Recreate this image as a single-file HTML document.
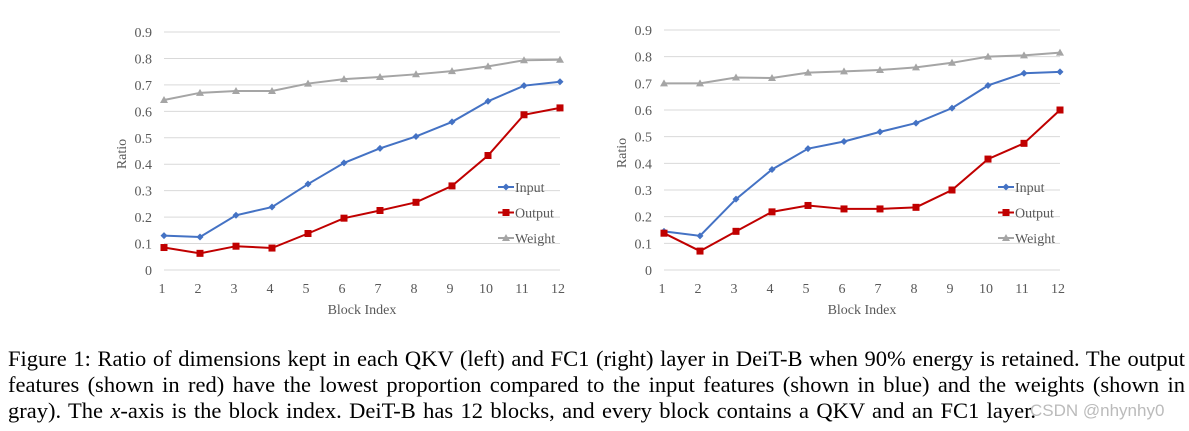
<!DOCTYPE html>
<html><head><meta charset="utf-8"><style>
body{margin:0;background:#fff;width:1189px;height:431px;overflow:hidden;position:relative;font-family:"Liberation Serif",serif}
.cl{position:absolute;left:8px;width:1177px;font-size:22.5px;line-height:26px;text-align:justify;text-align-last:justify;color:#000;white-space:nowrap}
#wm{position:absolute;left:1030px;top:401px;font-family:"Liberation Sans",sans-serif;font-size:17px;color:#bbb}
</style></head><body>
<svg id="chart" width="1189" height="340" style="position:absolute;left:0;top:0"></svg>
<div>
<div class="cl" style="top:346px">Figure 1: Ratio of dimensions kept in each QKV (left) and FC1 (right) layer in DeiT-B when 90% energy is retained. The output</div>
<div class="cl" style="top:372px">features (shown in red) have the lowest proportion compared to the input features (shown in blue) and the weights (shown in</div>
<div class="cl" style="top:398px;width:1028px">gray). The <i>x</i>-axis is the block index. DeiT-B has 12 blocks, and every block contains a QKV and an FC1 layer.</div>
</div>
<div id="wm">CSDN @nhynhy0</div>
<script>
const blocks=[1,2,3,4,5,6,7,8,9,10,11,12];
const yTicks=[0,0.1,0.2,0.3,0.4,0.5,0.6,0.7,0.8,0.9];
const yTickLabels=["0","0.1","0.2","0.3","0.4","0.5","0.6","0.7","0.8","0.9"];
const leftInput=[0.13,0.125,0.207,0.238,0.325,0.405,0.46,0.505,0.56,0.638,0.697,0.712];
const leftOutput=[0.085,0.063,0.09,0.083,0.138,0.196,0.225,0.256,0.318,0.433,0.587,0.613];
const leftWeight=[0.643,0.67,0.677,0.677,0.705,0.722,0.73,0.74,0.752,0.77,0.793,0.795];
const rightInput=[0.145,0.128,0.266,0.377,0.455,0.482,0.518,0.551,0.607,0.692,0.738,0.743];
const rightOutput=[0.138,0.071,0.145,0.218,0.242,0.229,0.229,0.235,0.3,0.416,0.475,0.6];
const rightWeight=[0.7,0.7,0.722,0.72,0.74,0.745,0.75,0.76,0.777,0.8,0.805,0.815];
const seriesNames=["Input","Output","Weight"];
const NS="http://www.w3.org/2000/svg";
const svg=document.getElementById('chart');
function mk(t,a,p){const e=document.createElementNS(NS,t);for(const k in a)e.setAttribute(k,a[k]);(p||svg).appendChild(e);return e;}
function marker(g,kind,x,y,c){
  if(kind==="Input"){return mk('path',{d:`M${x} ${y-3.5}L${x+3.5} ${y}L${x} ${y+3.5}L${x-3.5} ${y}Z`,fill:c},g);}
  if(kind==="Output"){return mk('rect',{x:x-3.5,y:y-3.5,width:7,height:7,fill:c},g);}
  return mk('path',{d:`M${x} ${y-4}L${x+4} ${y+3}L${x-4} ${y+3}Z`,fill:c},g);
}
function drawChart(name,x0,x1,yTop,yBot,data){
  const g=mk('g',{});
  
  
  const xs=v=>x0+(v-1)*(x1-x0)/11;
  const ys=v=>yBot-v*(yBot-yTop)/0.9;
  yTicks.forEach((t,i)=>{
    const l=mk('line',{x1:x0,x2:x1,y1:ys(t),y2:ys(t),stroke:'#d9d9d9','stroke-width':1},g);
    
    
    const tx=mk('text',{x:x0-12,y:ys(t)+5,'text-anchor':'end','font-size':14,fill:'#595959'},g);
    tx.textContent=yTickLabels[i];
    
    
  });
  blocks.forEach(b=>{
    const tx=mk('text',{x:xs(b)-2,y:yBot+23,'text-anchor':'middle','font-size':14,fill:'#595959'},g);
    tx.textContent=b;
    
    
  });
  const xt=mk('text',{x:(x0+x1)/2,y:yBot+44,'text-anchor':'middle','font-size':14,fill:'#595959'},g);
  xt.textContent='Block Index';
  
  
  const yt=mk('text',{x:0,y:0,'text-anchor':'middle','font-size':14,fill:'#595959',transform:`translate(${x0-38},${(yTop+yBot)/2+3}) rotate(-90)`},g);
  yt.textContent='Ratio';
  
  
  const colors={Input:'#4472c4',Output:'#c00000',Weight:'#a5a5a5'};
  seriesNames.forEach((s,si)=>{
    const vals=data[si];
    const pl=mk('polyline',{points:vals.map((v,i)=>xs(blocks[i])+','+ys(v)).join(' '),fill:'none',stroke:colors[s],'stroke-width':2},g);
    
    
    vals.forEach((v,i)=>{const m=marker(g,s,xs(blocks[i]),ys(v),colors[s]);
      
      });
    const ly=yBot-83+si*25.5;
    const ll=mk('line',{x1:x1-62,x2:x1-46,y1:ly,y2:ly,stroke:colors[s],'stroke-width':2},g);
    
    
    const lm=marker(g,s,x1-54,ly,colors[s]);
    
    
    const lt=mk('text',{x:x1-45,y:ly+5,'font-size':14,fill:'#595959'},g);
    lt.textContent=s;
    
    
  });
}
drawChart('qkv-chart',164,560,32,270,[leftInput,leftOutput,leftWeight]);
drawChart('fc1-chart',664,1060,30,270,[rightInput,rightOutput,rightWeight]);
</script>
</body></html>
